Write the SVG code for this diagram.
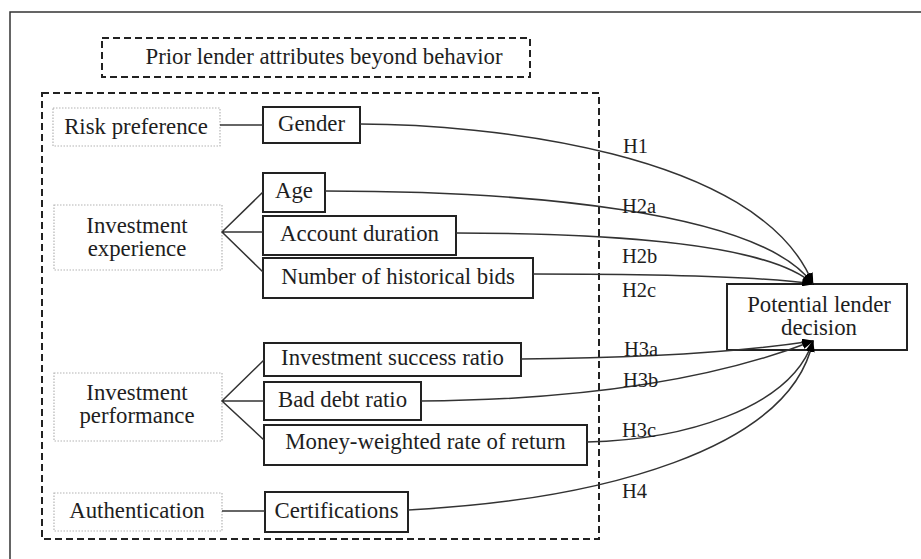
<svg xmlns="http://www.w3.org/2000/svg" width="921" height="559" viewBox="0 0 921 559">
<defs>
<style>
text{font-family:"Liberation Serif","Times New Roman",serif;fill:#1e1e1e;font-size:22.8px}
.h{font-size:20.5px}
.cat{fill:#fff;stroke:#b4b4b4;stroke-width:1.2;stroke-dasharray:1.5 1.5}
.var{fill:#fff;stroke:#222;stroke-width:2}
.dash{fill:none;stroke:#222;stroke-width:2;stroke-dasharray:7 4}
.ln{fill:none;stroke:#333;stroke-width:1.5}
.cv{fill:none;stroke:#333;stroke-width:1.5;marker-end:url(#ah)}
</style>
<marker id="ah" viewBox="0 0 12 8" refX="11" refY="4" markerWidth="12" markerHeight="8" markerUnits="userSpaceOnUse" orient="auto">
<path d="M0,0 L12,4 L0,8 z" fill="#000"/>
</marker>
</defs>
<rect x="0" y="0" width="921" height="559" fill="#fff"/>
<rect x="10" y="12" width="930" height="570" fill="none" stroke="#333" stroke-width="1.5"/>

<g id="title">
<rect x="102" y="38" width="428" height="39" class="dash"/>
<text x="324" y="64" text-anchor="middle">Prior lender attributes beyond behavior</text>
</g>
<g id="group-box">
<rect x="42" y="93" width="557" height="446" class="dash"/>
</g>

<g id="risk-preference">
<rect x="53" y="108" width="167" height="38" class="cat"/>
<text x="136" y="134" text-anchor="middle">Risk preference</text>
</g>
<g id="investment-experience">
<rect x="54" y="205" width="168" height="65" class="cat"/>
<text x="137" y="233" text-anchor="middle">Investment</text>
<text x="137" y="256" text-anchor="middle">experience</text>
</g>
<g id="investment-performance">
<rect x="54" y="373" width="168" height="68" class="cat"/>
<text x="137" y="400" text-anchor="middle">Investment</text>
<text x="137" y="423" text-anchor="middle">performance</text>
</g>
<g id="authentication">
<rect x="54" y="493" width="168" height="38" class="cat"/>
<text x="137" y="518" text-anchor="middle">Authentication</text>
</g>

<g id="gender">
<rect x="263" y="107" width="97" height="36" class="var"/>
<text x="311.5" y="131" text-anchor="middle">Gender</text>
</g>
<g id="age">
<rect x="263" y="173" width="62" height="39" class="var"/>
<text x="294" y="198" text-anchor="middle">Age</text>
</g>
<g id="account-duration">
<rect x="263" y="216" width="193" height="39" class="var"/>
<text x="359.5" y="241" text-anchor="middle">Account duration</text>
</g>
<g id="historical-bids">
<rect x="263" y="258" width="270" height="40" class="var"/>
<text x="398" y="284" text-anchor="middle">Number of historical bids</text>
</g>
<g id="success-ratio">
<rect x="264" y="343" width="257" height="33" class="var"/>
<text x="392.5" y="365" text-anchor="middle">Investment success ratio</text>
</g>
<g id="bad-debt">
<rect x="264" y="382" width="157" height="38" class="var"/>
<text x="342.5" y="407" text-anchor="middle">Bad debt ratio</text>
</g>
<g id="money-weighted">
<rect x="264" y="425" width="323" height="40" class="var"/>
<text x="425.5" y="449" text-anchor="middle">Money-weighted rate of return</text>
</g>
<g id="certifications">
<rect x="265" y="492" width="143" height="40" class="var"/>
<text x="336.5" y="518" text-anchor="middle">Certifications</text>
</g>
<g id="decision">
<rect x="727" y="284" width="180" height="66" class="var"/>
<text x="819" y="312" text-anchor="middle">Potential lender</text>
<text x="819" y="335" text-anchor="middle">decision</text>
</g>

<g id="connectors">
<path class="ln" d="M220,125 H263"/>
<path class="ln" d="M263,192 L222,232 L263,272 M222,232 H263"/>
<path class="ln" d="M264,360 L222,401 L264,440 M222,401 H264"/>
<path class="ln" d="M222,511 H265"/>
<path class="cv" d="M360,124 C480,124 760,150 813,284"/>
<path class="cv" d="M325,191 C520,191 760,210 813,284"/>
<path class="cv" d="M456,233 C620,233 770,245 813,284"/>
<path class="cv" d="M533,274 C650,274 760,276 813,284"/>
<path class="cv" d="M521,359 C650,358 740,352 813,341"/>
<path class="cv" d="M421,401 C560,400 700,385 813,341"/>
<path class="cv" d="M587,442 C680,440 790,410 813,341"/>
<path class="cv" d="M408,510 C600,500 790,450 813,341"/>
</g>

<g id="labels">
<text class="h" x="623" y="153">H1</text>
<text class="h" x="622" y="213">H2a</text>
<text class="h" x="622" y="263">H2b</text>
<text class="h" x="622" y="297">H2c</text>
<text class="h" x="624" y="356">H3a</text>
<text class="h" x="623" y="387">H3b</text>
<text class="h" x="622" y="437">H3c</text>
<text class="h" x="622" y="498">H4</text>
</g>
</svg>
